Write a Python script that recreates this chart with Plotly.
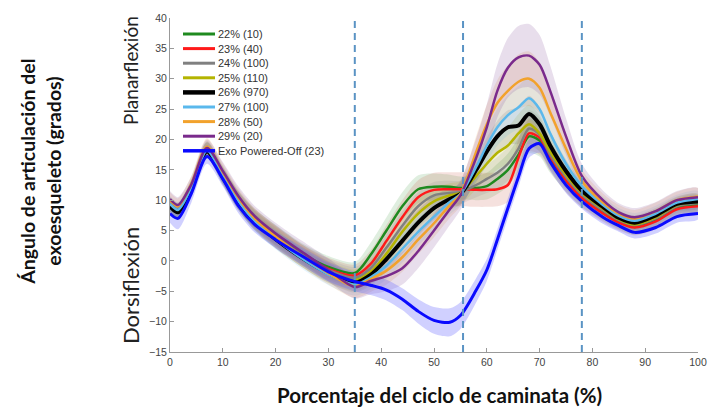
import plotly.graph_objects as go

# Gait cycle grid (%)
x_pct = [0, 1.5, 4, 7, 10, 13, 16, 20, 25, 30, 35, 38, 41, 44, 47, 50, 53, 55,
         58, 60, 62, 64, 66, 68, 70, 72, 75, 78, 82, 85, 88, 92, 96, 100]

labels = ["22% (10)", "23% (40)", "24% (100)", "25% (110)", "26% (970)",
          "27% (100)", "28% (50)", "29% (20)", "Exo Powered-Off (23)"]

y_22 = [9.3, 8.3, 12.0, 18.3, 14.2, 10.0, 7.0, 4.2, 1.2, -1.0,
        -2.0, 1.0, 5.0, 9.0, 11.8, 12.2, 12.2, 12.0, 12.0, 12.3, 13.5, 15.0, 17.5, 20.5, 19.8, 16.8, 13.3, 10.5, 8.0, 6.5, 5.6, 6.8, 8.8, 9.2]
y_23 = [9.0, 8.0, 12.0, 18.2, 14.0, 9.8, 6.8, 4.0, 1.0, -1.3,
        -2.4, -0.5, 3.3, 7.2, 10.5, 11.7, 11.8, 11.8, 11.7, 11.7, 11.8, 12.5, 17.0, 21.0, 20.3, 17.2, 13.3, 10.4, 7.8, 6.3, 5.5, 6.5, 8.5, 9.0]
y_24 = [9.5, 8.5, 12.2, 18.5, 14.3, 10.0, 7.0, 4.2, 1.0, -1.5,
        -2.8, -1.2, 2.2, 5.8, 9.0, 10.8, 11.2, 11.3, 12.5, 13.5, 14.5, 16.0, 18.5, 21.8, 20.8, 17.5, 13.8, 10.9, 8.3, 6.7, 5.9, 7.0, 9.0, 9.5]
y_25 = [9.2, 8.2, 12.0, 18.3, 14.0, 9.8, 6.7, 3.8, 0.7, -1.8,
        -3.2, -1.8, 1.2, 4.8, 7.8, 9.8, 10.8, 11.2, 14.0, 16.0, 17.8, 19.0, 21.0, 22.5, 21.0, 18.0, 14.2, 11.2, 8.6, 6.9, 6.0, 7.2, 9.2, 9.7]
y_26 = [9.0, 8.0, 11.8, 18.0, 13.8, 9.6, 6.5, 3.6, 0.5, -2.0,
        -3.6, -2.3, 0.3, 3.3, 6.3, 8.7, 10.2, 11.0, 15.0, 18.0, 20.5, 22.0, 22.3, 24.2, 22.5, 19.0, 14.8, 11.6, 8.9, 7.1, 6.3, 7.5, 9.4, 9.8]
y_27 = [9.4, 8.4, 12.0, 18.2, 14.0, 9.8, 6.6, 3.6, 0.4, -2.2,
        -3.9, -2.7, -0.8, 2.0, 4.8, 7.3, 9.7, 11.0, 15.5, 19.0, 22.0, 24.0, 25.3, 26.8, 25.0, 21.0, 16.0, 12.3, 9.2, 7.4, 6.6, 7.8, 9.6, 10.2]
y_28 = [10.0, 9.0, 12.6, 18.8, 14.6, 10.3, 7.0, 4.0, 0.8, -2.0,
        -4.2, -3.0, -1.6, 0.6, 3.5, 6.2, 9.2, 11.0, 18.0, 22.5, 26.0, 28.0, 29.5, 30.0, 28.5, 24.5, 18.5, 13.2, 9.6, 7.8, 7.0, 8.2, 10.0, 10.6]
y_29 = [10.2, 9.2, 12.5, 18.6, 14.8, 10.6, 7.4, 4.5, 1.5, -1.5,
        -4.3, -3.3, -2.5, -1.2, 1.6, 5.0, 8.5, 10.8, 17.0, 22.0, 28.0, 31.8, 33.5, 33.8, 32.3, 28.0, 20.5, 14.0, 10.0, 8.0, 7.2, 8.2, 10.0, 10.5]
y_off = [7.8, 7.0, 11.0, 17.2, 13.5, 9.0, 6.0, 3.5, 0.8, -1.8,
         -3.4, -4.0, -4.8, -6.3, -8.3, -9.8, -10.1, -9.0, -4.8, -1.5, 3.5, 8.7, 13.8, 18.5, 19.3, 16.3, 12.5, 9.8, 7.2, 5.8, 4.7, 5.5, 7.3, 7.8]

# Standard-deviation half widths (degrees)
sd_22 = [1.2, 1.2, 1.2, 1.3, 1.4, 1.5, 1.6, 1.7, 1.7, 1.8, 1.8, 2.0, 2.2, 2.3, 2.3, 2.2, 2.0, 1.9, 2.0, 2.2, 2.5, 2.7, 2.8, 2.8, 2.6, 2.3, 1.9, 1.6, 1.4, 1.3, 1.3, 1.3, 1.3, 1.3]
sd_23 = [1.2, 1.2, 1.2, 1.3, 1.4, 1.5, 1.6, 1.7, 1.7, 1.8, 1.8, 2.2, 2.6, 2.8, 2.8, 2.8, 2.8, 2.8, 2.8, 2.8, 2.8, 2.8, 3.0, 3.0, 2.8, 2.4, 2.0, 1.6, 1.4, 1.3, 1.3, 1.3, 1.3, 1.3]
sd_24 = [1.2, 1.2, 1.2, 1.3, 1.4, 1.5, 1.6, 1.7, 1.7, 1.8, 1.8, 2.0, 2.2, 2.3, 2.3, 2.2, 2.0, 1.9, 2.0, 2.3, 2.6, 2.8, 3.0, 3.0, 2.8, 2.4, 2.0, 1.6, 1.4, 1.3, 1.3, 1.3, 1.3, 1.3]
sd_25 = [1.2, 1.2, 1.2, 1.3, 1.4, 1.5, 1.6, 1.7, 1.7, 1.8, 1.8, 2.0, 2.2, 2.3, 2.3, 2.2, 2.0, 1.9, 2.2, 2.5, 2.8, 3.0, 3.2, 3.2, 3.0, 2.6, 2.0, 1.6, 1.4, 1.3, 1.3, 1.3, 1.3, 1.3]
sd_26 = [1.0, 1.0, 1.0, 1.1, 1.2, 1.3, 1.4, 1.5, 1.5, 1.6, 1.6, 1.8, 2.0, 2.1, 2.1, 2.0, 1.8, 1.7, 2.0, 2.3, 2.6, 2.8, 3.0, 3.0, 2.8, 2.4, 1.9, 1.5, 1.3, 1.2, 1.2, 1.2, 1.2, 1.2]
sd_27 = [1.2, 1.2, 1.2, 1.3, 1.4, 1.5, 1.6, 1.7, 1.7, 1.8, 1.8, 2.0, 2.2, 2.3, 2.3, 2.2, 2.0, 1.9, 2.3, 2.7, 3.0, 3.3, 3.5, 3.5, 3.3, 2.8, 2.1, 1.7, 1.4, 1.3, 1.3, 1.3, 1.3, 1.3]
sd_28 = [1.3, 1.3, 1.3, 1.4, 1.5, 1.6, 1.7, 1.8, 1.8, 1.9, 1.9, 2.1, 2.3, 2.4, 2.4, 2.3, 2.1, 2.0, 2.6, 3.2, 3.8, 4.2, 4.5, 4.5, 4.2, 3.5, 2.5, 1.8, 1.5, 1.4, 1.4, 1.4, 1.4, 1.4]
sd_29 = [1.3, 1.3, 1.3, 1.4, 1.5, 1.6, 1.7, 1.8, 1.8, 1.9, 1.9, 2.2, 2.5, 2.7, 2.8, 2.8, 2.6, 2.4, 3.2, 3.8, 4.4, 4.9, 5.2, 5.2, 4.9, 4.2, 3.0, 2.0, 1.6, 1.5, 1.5, 1.5, 1.5, 1.5]
sd_off = [1.5, 1.8, 1.5, 1.2, 1.2, 1.2, 1.3, 1.4, 1.5, 1.6, 1.6, 1.6, 1.7, 1.8, 2.0, 2.2, 2.3, 2.2, 2.0, 1.8, 1.7, 1.6, 1.6, 1.5, 1.5, 1.4, 1.3, 1.2, 1.1, 1.0, 1.0, 1.0, 1.0, 1.0]

event_lines = [35, 55.5, 78]
x_ticks = [0, 10, 20, 30, 40, 50, 60, 70, 80, 90, 100]
y_ticks = [-15, -10, -5, 0, 5, 10, 15, 20, 25, 30, 35, 40]

means = [y_22, y_23, y_24, y_25, y_26, y_27, y_28, y_29, y_off]
sds = [sd_22, sd_23, sd_24, sd_25, sd_26, sd_27, sd_28, sd_29, sd_off]
colors = ["#1f8a1f", "#ff1a1a", "#808080", "#b4b400", "#000000",
          "#5ab8ec", "#f2a22c", "#7a2a8c", "#0a0aff"]
bandcols = ["rgba(40,140,40,0.15)", "rgba(200,90,70,0.18)", "rgba(128,128,128,0.15)",
            "rgba(170,170,0,0.14)", "rgba(60,60,60,0.13)", "rgba(90,184,236,0.15)",
            "rgba(230,150,70,0.18)", "rgba(140,90,160,0.20)", "rgba(100,100,255,0.30)"]
widths = [2.5, 2.5, 2.5, 2.5, 4, 2.5, 2.5, 2.5, 3]

fig = go.Figure()

for m, s, bc in zip(means, sds, bandcols):
    up = [a + b for a, b in zip(m, s)]
    lo = [a - b for a, b in zip(m, s)]
    fig.add_trace(go.Scatter(
        x=x_pct + x_pct[::-1], y=up + lo[::-1], fill="toself",
        fillcolor=bc, line=dict(width=0, shape="spline", smoothing=0.8),
        mode="lines", showlegend=False, hoverinfo="skip"))

for m, c, w, lab in zip(means, colors, widths, labels):
    fig.add_trace(go.Scatter(
        x=x_pct, y=m, mode="lines", name=lab, showlegend=False,
        line=dict(color=c, width=w, shape="spline", smoothing=0.8)))

for xv in event_lines:
    fig.add_shape(type="line", x0=xv, x1=xv, y0=-15, y1=40, xref="x", yref="y",
                  line=dict(color="#5a93c4", width=2, dash="7px,5px"))

# Legend (compact, drawn in paper coordinates; plot area is 528 x 334 px)
PW, PH = 528.0, 334.0
for i, (lab, c, w) in enumerate(zip(labels, colors, widths)):
    yp = (334 - (16 + 14.6 * i)) / PH
    fig.add_shape(type="line", xref="paper", yref="paper",
                  x0=13 / PW, x1=45 / PW, y0=yp, y1=yp,
                  line=dict(color=c, width=w + 0.5))
    fig.add_annotation(text=lab, xref="paper", yref="paper", x=46 / PW, y=yp,
                       xanchor="left", yanchor="middle", showarrow=False,
                       font=dict(family="Liberation Sans", size=11, color="#333333"))

fig.add_annotation(text="Ángulo de articulación del<br>exoesqueleto (grados)",
                   xref="paper", yref="paper", x=-0.246, y=0.54, xanchor="center", yanchor="middle",
                   textangle=-90, showarrow=False,
                   font=dict(family="Lato", size=19.5, color="#111111", weight="bold"))
fig.add_annotation(text="Planarflexión", xref="paper", yref="paper", x=-0.076, y=0.844,
                   xanchor="center", yanchor="middle", textangle=-90, showarrow=False,
                   font=dict(family="Lato", size=19, color="#222222"))
fig.add_annotation(text="Dorsiflexión", xref="paper", yref="paper", x=-0.076, y=0.2,
                   xanchor="center", yanchor="middle", textangle=-90, showarrow=False,
                   font=dict(family="Lato", size=22, color="#222222"))
fig.add_annotation(text="Porcentaje del ciclo de caminata (%)", xref="paper", yref="paper",
                   x=0.511, y=-0.129, xanchor="center", yanchor="middle", showarrow=False,
                   font=dict(family="Lato", size=20.5, color="#111111", weight="bold"))

fig.update_layout(
    width=709, height=409,
    margin=dict(l=170, r=11, t=18, b=57, autoexpand=False),
    paper_bgcolor="white", plot_bgcolor="white",
    font=dict(family="Liberation Sans", size=10, color="#444444"),
    showlegend=False,
    xaxis=dict(range=[0, 100], tickvals=x_ticks, showgrid=False, zeroline=False,
               showline=True, linecolor="#999999", linewidth=1, automargin=False,
               ticks="inside", ticklen=4, tickcolor="#999999", ticklabeloverflow="allow",
               tickfont=dict(size=10.5, color="#444444")),
    yaxis=dict(range=[-15, 40], tickvals=y_ticks, showgrid=False, zeroline=False,
               showline=True, linecolor="#999999", linewidth=1, automargin=False,
               ticks="inside", ticklen=4, tickcolor="#999999",
               tickfont=dict(size=10.5, color="#444444")),
)

fig.write_html("out.html", config={"displayModeBar": False},
               post_script="document.body.style.margin='0';document.body.style.overflow='hidden';")
